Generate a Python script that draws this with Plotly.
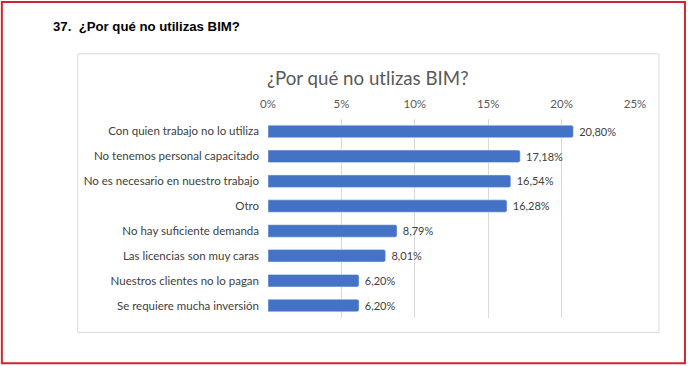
import plotly.graph_objects as go

categories = [
    "Con quien trabajo no lo utiliza",
    "No tenemos personal capacitado",
    "No es necesario en nuestro trabajo",
    "Otro",
    "No hay suficiente demanda",
    "Las licencias son muy caras",
    "Nuestros clientes no lo pagan",
    "Se requiere mucha inversión",
]
values = [20.80, 17.18, 16.54, 16.28, 8.79, 8.01, 6.20, 6.20]
tick_vals = [0, 5, 10, 15, 20, 25]
tick_text = ["0%", "5%", "10%", "15%", "20%", "25%"]
labels = [" " + f"{v:.2f}%".replace(".", ",") for v in values]

W, H = 688, 366
L, R, T, B = 267.5, 635, 118.5, 318.5
PW, PH = R - L, B - T

def px(x):
    return (x - L) / PW

def py(y):
    return 1 - (y - T) / PH

fig = go.Figure()
fig.add_trace(go.Bar(
    x=values, y=categories, orientation="h",
    marker=dict(color="#4472C4", cornerradius=2),
    width=0.5,
    text=labels, textposition="outside", cliponaxis=False,
    textfont=dict(family="Lato", size=11.5, color="#404040"),
    hoverinfo="skip",
))

fig.update_layout(
    width=W, height=H,
    margin=dict(l=L, r=W - R, t=T, b=H - B, pad=0),
    paper_bgcolor="white", plot_bgcolor="white",
    showlegend=False,
    xaxis=dict(
        range=[0, 25], side="top", tickvals=tick_vals, ticktext=tick_text,
        showgrid=True, gridcolor="#d9d9d9", gridwidth=1, zeroline=False,
        showline=False, ticks="", ticklabelstandoff=8,
        tickfont=dict(family="Lato", size=11.5, color="#595959"),
        fixedrange=True,
    ),
    yaxis=dict(
        autorange="reversed", showgrid=False, zeroline=False, showline=False,
        ticks="", ticklabelstandoff=8,
        tickfont=dict(family="Lato", size=11.5, color="#404040"),
        fixedrange=True,
    ),
    shapes=[
        dict(type="rect", xref="paper", yref="paper",
             x0=px(77), x1=px(659), y0=py(53), y1=py(333),
             line=dict(color="#d9d9d9", width=1), fillcolor="rgba(0,0,0,0)", layer="below"),
        dict(type="rect", xref="paper", yref="paper",
             x0=px(1), x1=px(685), y0=py(1), y1=py(364),
             line=dict(color="#d0242b", width=2), fillcolor="rgba(0,0,0,0)"),
    ],
    annotations=[
        dict(text="37.  ¿Por qué no utilizas BIM?", xref="paper", yref="paper",
             x=px(50), y=py(26), xanchor="left", yanchor="middle", showarrow=False,
             font=dict(family="Liberation Sans", size=13.2, color="#000000", weight="bold")),
        dict(text="¿Por qué no utlizas BIM?", xref="paper", yref="paper",
             x=px(368), y=py(77), xanchor="center", yanchor="middle", showarrow=False,
             font=dict(family="Lato", size=18.7, color="#595959")),
    ],
)

fig.write_html("out.html", config={"displayModeBar": False, "staticPlot": True},
               post_script="document.body.style.margin='0';document.body.style.overflow='hidden';")
